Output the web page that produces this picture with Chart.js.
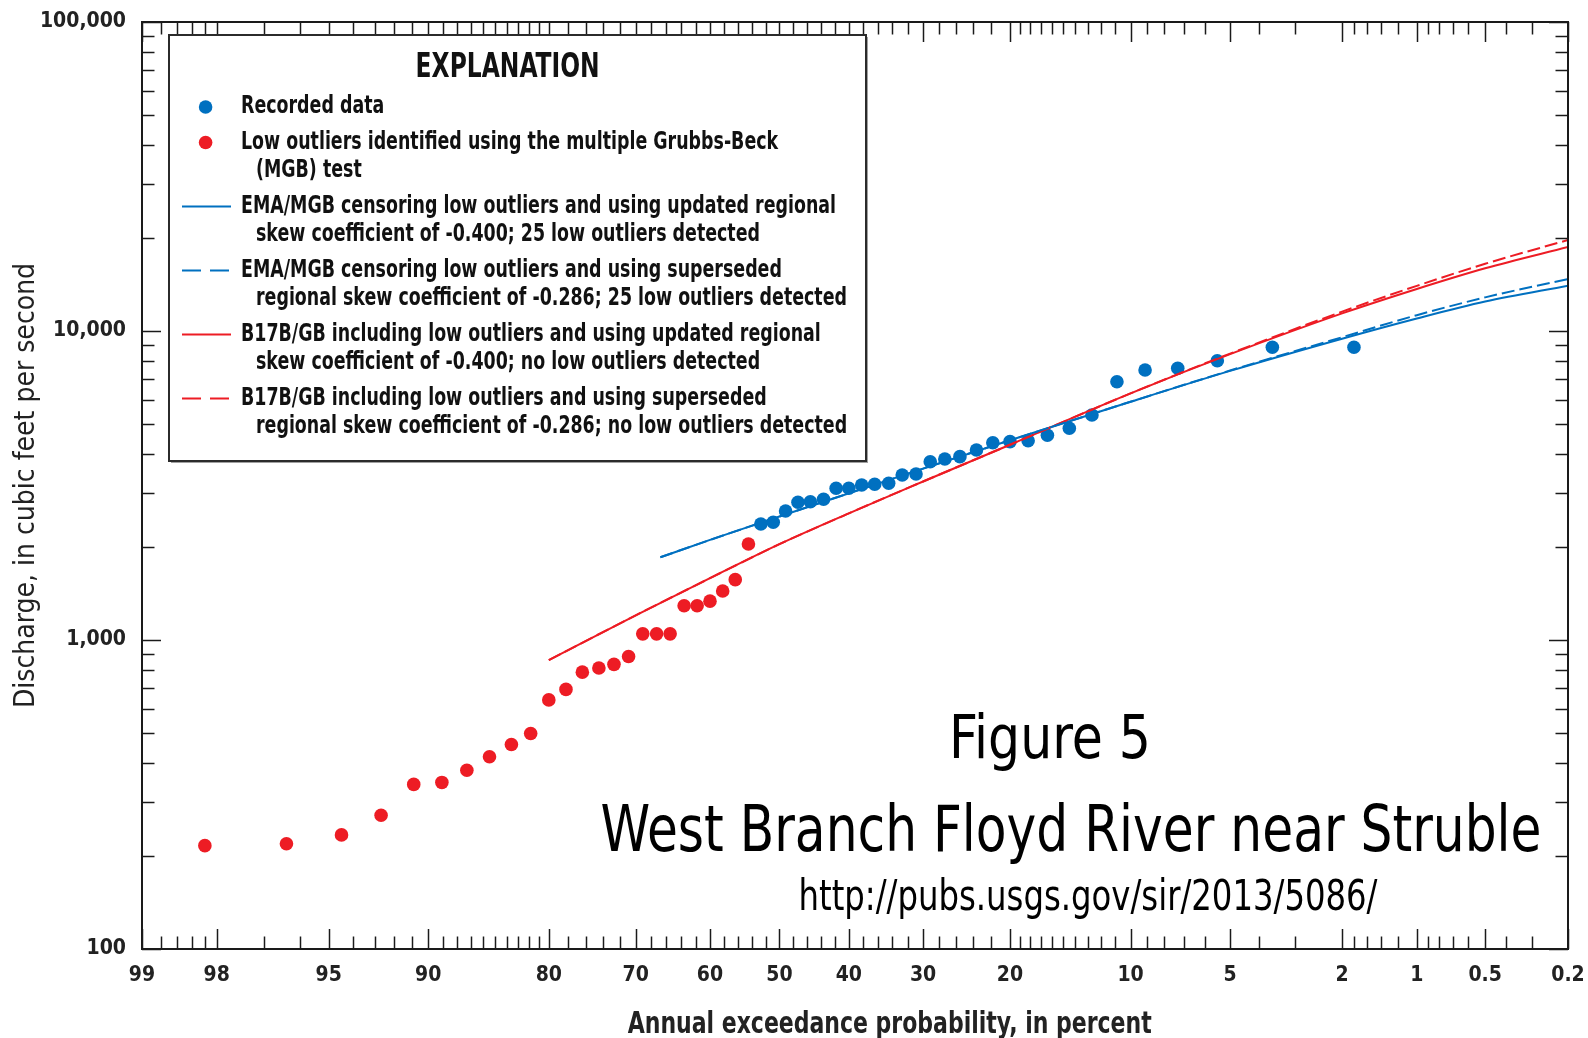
<!DOCTYPE html>
<html>
<head>
<meta charset="utf-8">
<title>Figure 5 - West Branch Floyd River near Struble</title>
<script src="https://cdn.jsdelivr.net/npm/chart.js@4.4.1/dist/chart.umd.min.js"></script>
<style>
  html, body { margin: 0; padding: 0; background: #fff; }
  #wrap { width: 1588px; height: 1038px; }
</style>
</head>
<body>
<div id="wrap"><canvas id="chart" width="1588" height="1038"></canvas></div>
<script>
const FONT = "'Liberation Sans Narrow', 'DejaVu Sans Condensed', 'Liberation Sans', sans-serif";
const BLUE = "#0070c0";
const RED = "#ed1c24";

// recorded annual peaks, annual exceedance probability (percent) and discharge (ft3/s)
const recordedProb = [52.7, 50.9, 49.1, 47.3, 45.5, 43.6, 41.8, 40.0, 38.2, 36.4, 34.5, 32.7, 30.9, 29.1,
  27.3, 25.5, 23.6, 21.8, 20.0, 18.2, 16.4, 14.5, 12.7, 10.9, 9.1, 7.3, 5.5, 3.6, 1.8];
const recordedQ = [2374, 2404, 2616, 2790, 2803, 2853, 3097, 3097, 3175, 3191, 3215, 3420, 3444, 3775,
  3853, 3921, 4121, 4350, 4384, 4416, 4597, 4843, 5348, 6852, 7478, 7574, 8014, 8856, 8856];

// low outliers flagged by the multiple Grubbs-Beck test
const outlierProb = [98.2, 96.4, 94.5, 92.7, 90.9, 89.1, 87.3, 85.5, 83.6, 81.8, 80.0, 78.2, 76.4,
  74.5, 72.7, 70.9, 69.1, 67.3, 65.5, 63.6, 61.8, 60.0, 58.2, 56.4, 54.5];
const outlierQ = [216, 219, 234, 271, 341, 346, 379, 419, 459, 498, 640, 692, 787,
  812, 834, 884, 1047, 1047, 1047, 1291, 1291, 1336, 1441, 1568, 2045];

// fitted frequency curves
const emaProb = [66.8, 60, 50, 30, 20, 10, 5, 2, 1, 0.5, 0.2];
const emaUpdatedQ = [1853, 2108, 2510, 3585, 4431, 5902, 7428, 9443, 10980, 12460, 14020];
const emaSupersededQ = [1853, 2108, 2510, 3585, 4431, 5902, 7450, 9550, 11250, 12850, 14730];

const b17Prob = [80, 70, 60, 50, 40, 30, 20, 10, 5, 2, 1, 0.5, 0.2];
const b17UpdatedQ = [861, 1202, 1585, 2042, 2570, 3258, 4285, 6281, 8414, 11400, 13680, 15960, 18700];
const b17SupersededQ = [861, 1202, 1585, 2042, 2570, 3258, 4285, 6281, 8450, 11550, 14000, 16500, 19700];

// axis ticks
const probLabels = [99, 98, 95, 90, 80, 70, 60, 50, 40, 30, 20, 10, 5, 2, 1, 0.5, 0.2];
const probMinor = [98.8, 98.6, 98.4, 98.2, 97, 96, 94, 93, 92, 91, 89, 88, 87, 86, 85, 84, 83, 82, 81,
  78, 76, 74, 72, 68, 66, 64, 62, 58, 56, 54, 52, 48, 46, 44, 42, 38, 36, 34, 32, 28, 26, 24, 22,
  19, 18, 17, 16, 15, 14, 13, 12, 11, 9, 8, 7, 6, 4, 3, 1.8, 1.6, 1.4, 1.2, 0.9, 0.8, 0.7, 0.6, 0.4, 0.3];
const qLabels = [100, 1000, 10000, 100000];
const qMinor = [200, 300, 400, 500, 600, 700, 800, 900, 2000, 3000, 4000, 5000, 6000, 7000, 8000, 9000,
  20000, 30000, 40000, 50000, 60000, 70000, 80000, 90000];

// exceedance percent -> normal quantile of non-exceedance (Acklam's approximation)
function probToZ(pct) {
  const p = 1 - pct / 100;
  const a = [-39.69683028665376, 220.9460984245205, -275.9285104469687, 138.3577518672690, -30.66479806614716, 2.506628277459239];
  const b = [-54.47609879822406, 161.5858368580409, -155.6989798598866, 66.80131188771972, -13.28068155288572];
  const c = [-0.007784894002430293, -0.3223964580411365, -2.400758277161838, -2.549732539343734, 4.374664141464968, 2.938163982698783];
  const d = [0.007784695709041462, 0.3224671290700398, 2.445134137142996, 3.754408661907416];
  const tail = (q) => (((((c[0] * q + c[1]) * q + c[2]) * q + c[3]) * q + c[4]) * q + c[5]) /
    ((((d[0] * q + d[1]) * q + d[2]) * q + d[3]) * q + 1);
  if (p < 0.02425) return tail(Math.sqrt(-2 * Math.log(p)));
  if (p > 1 - 0.02425) return -tail(Math.sqrt(-2 * Math.log(1 - p)));
  const q = p - 0.5, r = q * q;
  return (((((a[0] * r + a[1]) * r + a[2]) * r + a[3]) * r + a[4]) * r + a[5]) * q /
    (((((b[0] * r + b[1]) * r + b[2]) * r + b[3]) * r + b[4]) * r + 1);
}

const toPoints = (probs, qs) => probs.map((p, i) => ({ x: probToZ(p), y: qs[i] }));

function drawScaled(ctx, text, x, y, sx, align) {
  const w = ctx.measureText(text).width * sx;
  ctx.save();
  ctx.translate(align === "center" ? x - w / 2 : x, y);
  ctx.scale(sx, 1);
  ctx.textAlign = "left";
  ctx.fillText(text, 0, 0);
  ctx.restore();
}

function fitText(ctx, text, x, y, width, align) {
  drawScaled(ctx, text, x, y, width / ctx.measureText(text).width, align);
}

// frame with inward tick marks on all four sides
const frameTicks = {
  id: "frameTicks",
  afterDatasetsDraw(chart) {
    const { ctx, chartArea: a, scales: { x, y } } = chart;
    const seg = (x1, y1, x2, y2) => { ctx.beginPath(); ctx.moveTo(x1, y1); ctx.lineTo(x2, y2); ctx.stroke(); };
    const xTick = (p, len) => {
      const px = Math.round(x.getPixelForValue(probToZ(p))) + 0.5;
      seg(px, a.bottom, px, a.bottom - len);
      seg(px, a.top, px, a.top + len);
    };
    const yTick = (q, len) => {
      const py = Math.round(y.getPixelForValue(q)) + 0.5;
      seg(a.left, py, a.left + len, py);
      seg(a.right, py, a.right - len, py);
    };
    ctx.save();
    ctx.strokeStyle = "#1a1a1a";
    ctx.lineWidth = 1.5;
    probLabels.forEach(p => xTick(p, 20));
    probMinor.forEach(p => xTick(p, 12.5));
    qLabels.forEach(q => yTick(q, 19));
    qMinor.forEach(q => yTick(q, 12.5));
    ctx.lineWidth = 2;
    ctx.strokeRect(a.left, a.top, a.right - a.left, a.bottom - a.top);
    ctx.restore();
  }
};

// explanation box and figure captions
const explanation = {
  id: "explanation",
  afterDraw(chart) {
    const ctx = chart.ctx;
    const box = { left: 169, top: 35, right: 866, bottom: 461 };
    ctx.save();
    ctx.fillStyle = "#a0a0a0";
    ctx.fillRect(box.left + 2, box.top + 2, box.right - box.left, box.bottom - box.top);
    ctx.fillStyle = "#fff";
    ctx.fillRect(box.left, box.top, box.right - box.left, box.bottom - box.top);
    ctx.strokeStyle = "#2b2b2b";
    ctx.lineWidth = 2;
    ctx.strokeRect(box.left, box.top, box.right - box.left, box.bottom - box.top);

    ctx.fillStyle = "#111";
    ctx.textBaseline = "alphabetic";
    ctx.font = `bold 34px ${FONT}`;
    fitText(ctx, "EXPLANATION", 507.6, 77, 184, "center");

    ctx.font = `bold 24px ${FONT}`;
    ctx.textBaseline = "middle";
    const sx = 595 / ctx.measureText(chart.data.datasets[2].legendLines[0]).width;
    let yy = 107;
    chart.data.datasets.forEach(ds => {
      if (ds.showLine) {
        ctx.strokeStyle = ds.borderColor;
        ctx.lineWidth = 2;
        ctx.setLineDash(ds.borderDash && ds.borderDash.length ? [19, 9] : []);
        ctx.beginPath();
        ctx.moveTo(182, yy);
        ctx.lineTo(231, yy);
        ctx.stroke();
        ctx.setLineDash([]);
      } else {
        ctx.fillStyle = ds.backgroundColor;
        ctx.beginPath();
        ctx.arc(205.6, yy, ds.pointRadius, 0, Math.PI * 2);
        ctx.fill();
      }
      ctx.fillStyle = "#111";
      ds.legendLines.forEach((t, i) => drawScaled(ctx, t, i ? 256 : 241, yy + i * 28.5, sx, "left"));
      yy += ds.legendLines.length * 28.5 + 7;
    });

    ctx.fillStyle = "#000";
    ctx.textBaseline = "alphabetic";
    ctx.font = `61px ${FONT}`;
    fitText(ctx, "Figure 5", 1050, 757.6, 202, "center");
    ctx.font = `64px ${FONT}`;
    fitText(ctx, "West Branch Floyd River near Struble", 1071, 851, 941, "center");
    ctx.font = `42px ${FONT}`;
    fitText(ctx, "http://pubs.usgs.gov/sir/2013/5086/", 1088, 909.5, 579, "center");

    ctx.fillStyle = "#222";
    ctx.font = `bold 31px ${FONT}`;
    fitText(ctx, "Annual exceedance probability, in percent", 889.7, 1033, 524, "center");
    ctx.restore();
  }
};

const ctx = document.querySelector("#chart").getContext("2d");

const myChart = new Chart(ctx, {
  type: "scatter",
  data: {
    datasets: [
      {
        label: "Recorded data",
        legendLines: ["Recorded data"],
        data: toPoints(recordedProb, recordedQ),
        backgroundColor: BLUE,
        borderWidth: 0,
        pointRadius: 6.8,
        order: 3,
      },
      {
        label: "Low outliers identified using the multiple Grubbs-Beck (MGB) test",
        legendLines: ["Low outliers identified using the multiple Grubbs-Beck", "(MGB) test"],
        data: toPoints(outlierProb, outlierQ),
        backgroundColor: RED,
        borderWidth: 0,
        pointRadius: 6.8,
        order: 3,
      },
      {
        label: "EMA/MGB updated regional skew",
        legendLines: ["EMA/MGB censoring low outliers and using updated regional",
          "skew coefficient of -0.400; 25 low outliers detected"],
        data: toPoints(emaProb, emaUpdatedQ),
        showLine: true,
        borderColor: BLUE,
        borderWidth: 2,
        borderDash: [],
        pointRadius: 0,
        cubicInterpolationMode: "monotone",
        order: 2,
      },
      {
        label: "EMA/MGB superseded regional skew",
        legendLines: ["EMA/MGB censoring low outliers and using superseded",
          "regional skew coefficient of -0.286; 25 low outliers detected"],
        data: toPoints(emaProb, emaSupersededQ),
        showLine: true,
        borderColor: BLUE,
        borderWidth: 2,
        borderDash: [13, 5],
        pointRadius: 0,
        cubicInterpolationMode: "monotone",
        order: 1,
      },
      {
        label: "B17B/GB updated regional skew",
        legendLines: ["B17B/GB including low outliers and using updated regional",
          "skew coefficient of -0.400; no low outliers detected"],
        data: toPoints(b17Prob, b17UpdatedQ),
        showLine: true,
        borderColor: RED,
        borderWidth: 2,
        borderDash: [],
        pointRadius: 0,
        cubicInterpolationMode: "monotone",
        order: 2,
      },
      {
        label: "B17B/GB superseded regional skew",
        legendLines: ["B17B/GB including low outliers and using superseded",
          "regional skew coefficient of -0.286; no low outliers detected"],
        data: toPoints(b17Prob, b17SupersededQ),
        showLine: true,
        borderColor: RED,
        borderWidth: 2,
        borderDash: [13, 5],
        pointRadius: 0,
        cubicInterpolationMode: "monotone",
        order: 1,
      },
    ],
  },
  options: {
    responsive: false,
    animation: false,
    layout: { padding: { left: 0, top: 22, right: 20, bottom: 0 } },
    plugins: {
      legend: { display: false },
      tooltip: { enabled: false },
    },
    scales: {
      x: {
        type: "linear",
        min: probToZ(99),
        max: probToZ(0.2),
        afterBuildTicks: (scale) => {
          scale.ticks = probLabels.map(p => ({ value: probToZ(p) }));
        },
        afterFit: (scale) => {
          scale.height = 89;
          scale.paddingLeft = 0;
          scale.paddingRight = 0;
        },
        ticks: {
          autoSkip: false,
          maxRotation: 0,
          padding: 14,
          color: "#222",
          font: { family: FONT, size: 21, weight: "bold" },
          callback: function (value, index) {
            return String(probLabels[index]);
          },
        },
        grid: { display: false, drawTicks: false },
        border: { display: false },
      },
      y: {
        type: "logarithmic",
        min: 100,
        max: 100000,
        afterBuildTicks: (scale) => {
          scale.ticks = qLabels.map(q => ({ value: q }));
        },
        afterFit: (scale) => {
          scale.width = 142;
          scale.paddingTop = 0;
          scale.paddingBottom = 0;
        },
        ticks: {
          padding: 16,
          color: "#222",
          font: { family: FONT, size: 21, weight: "bold" },
          callback: function (value) {
            return Number(value).toLocaleString("en-US");
          },
        },
        grid: { display: false, drawTicks: false },
        border: { display: false },
        title: {
          display: true,
          text: "Discharge, in cubic feet per second",
          color: "#222",
          font: { family: FONT, size: 28 },
          padding: { top: 10, bottom: 0 },
        },
      },
    },
  },
  plugins: [frameTicks, explanation],
});
</script>
</body>
</html>
